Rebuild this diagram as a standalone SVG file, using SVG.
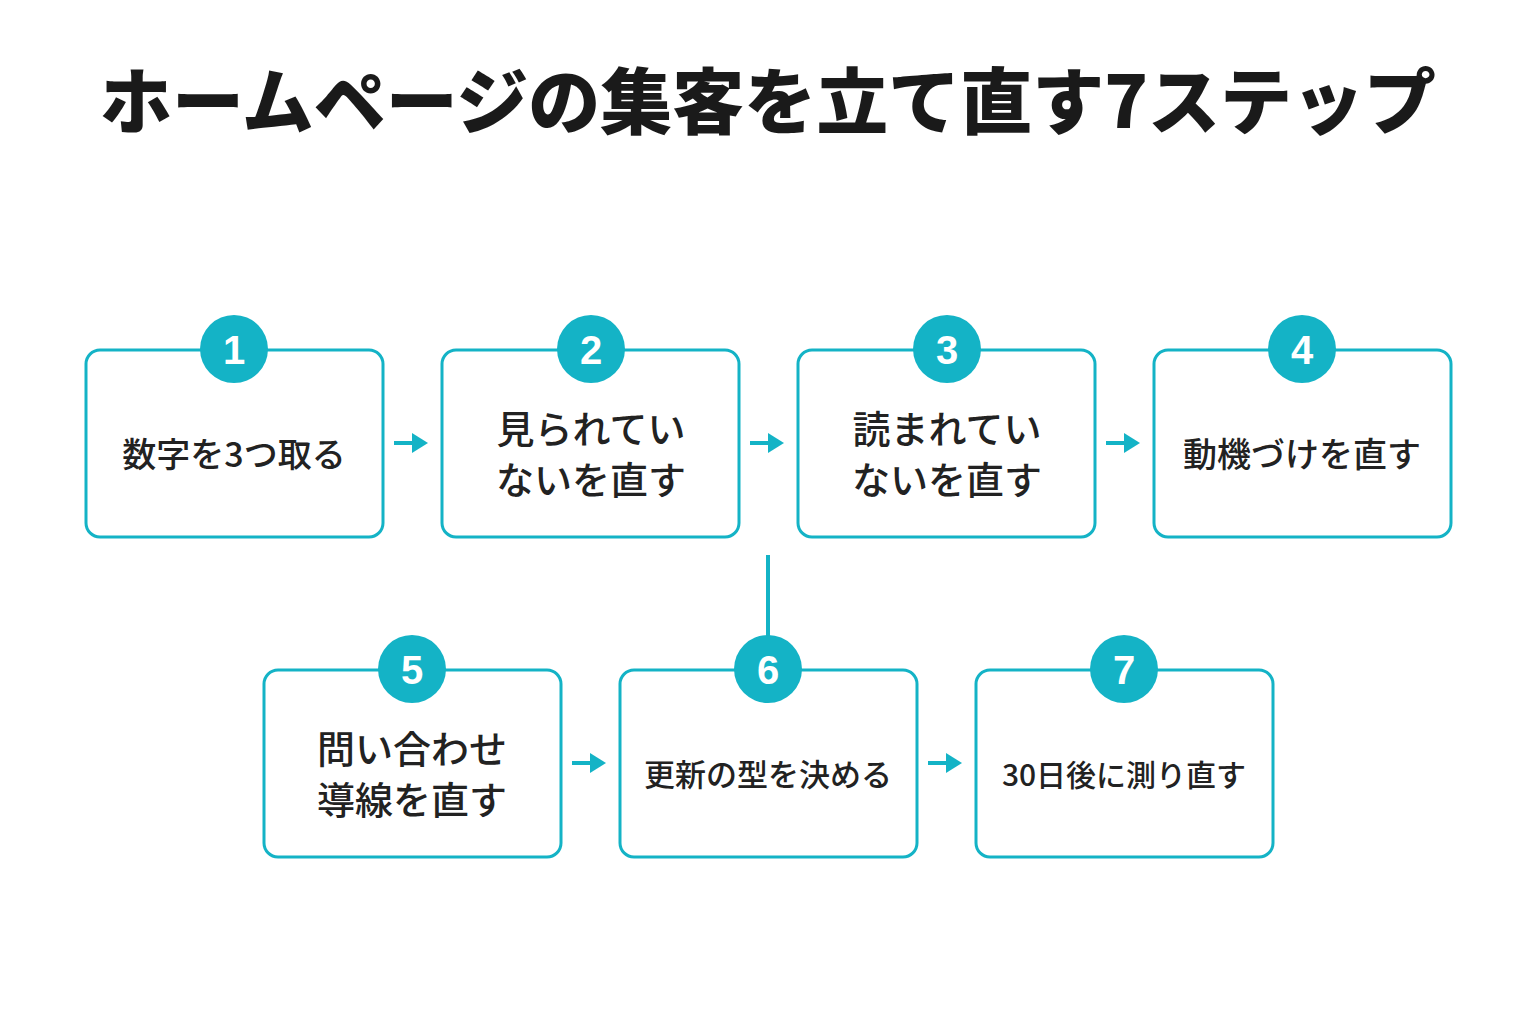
<svg xmlns="http://www.w3.org/2000/svg" width="1536" height="1024" viewBox="0 0 1536 1024">
<style>
.box{fill:#fff;stroke:#14B3C6;stroke-width:3}
.c{fill:#14B3C6}
.n{font-family:"Liberation Sans",Arial,sans-serif;font-weight:bold;font-size:40px;fill:#fff;text-anchor:middle}
.t{font-family:"Noto Sans CJK JP",sans-serif;font-weight:500;fill:#222;text-anchor:middle}
.ln{stroke:#14B3C6;stroke-width:4;fill:none}
</style>
<defs><marker id="a" markerWidth="4" markerHeight="5" refX="2" refY="2.5" orient="auto" markerUnits="strokeWidth"><path d="M0,0L4,2.5L0,5Z" fill="#14B3C6"/></marker></defs>
<rect width="1536" height="1024" fill="#fff"/>
<text x="768" y="128" font-family="Noto Sans CJK JP,sans-serif" font-weight="900" font-size="72" fill="#1a1a1a" text-anchor="middle">ホームページの集客を立て直す7ステップ</text>
<g id="connectors">
<line class="ln" x1="394" y1="443" x2="420" y2="443" marker-end="url(#a)"/>
<line class="ln" x1="750" y1="443" x2="776" y2="443" marker-end="url(#a)"/>
<line class="ln" x1="1106" y1="443" x2="1132" y2="443" marker-end="url(#a)"/>
<line class="ln" x1="572" y1="763" x2="598" y2="763" marker-end="url(#a)"/>
<line class="ln" x1="928" y1="763" x2="954" y2="763" marker-end="url(#a)"/>
<line class="ln" x1="768" y1="555" x2="768" y2="640"/>
</g>
<g id="s1"><rect class="box" x="86" y="350" width="297" height="187" rx="14"/><circle class="c" cx="234" cy="349" r="34"/><text class="n" x="234" y="364">1</text><text class="t" x="234" y="467" font-size="34">数字を3つ取る</text></g>
<g id="s2"><rect class="box" x="442" y="350" width="297" height="187" rx="14"/><circle class="c" cx="591" cy="349" r="34"/><text class="n" x="591" y="364">2</text><text class="t" x="591" y="443" font-size="38">見られてい</text><text class="t" x="591" y="494" font-size="38">ないを直す</text></g>
<g id="s3"><rect class="box" x="798" y="350" width="297" height="187" rx="14"/><circle class="c" cx="947" cy="349" r="34"/><text class="n" x="947" y="364">3</text><text class="t" x="947" y="443" font-size="38">読まれてい</text><text class="t" x="947" y="494" font-size="38">ないを直す</text></g>
<g id="s4"><rect class="box" x="1154" y="350" width="297" height="187" rx="14"/><circle class="c" cx="1302" cy="349" r="34"/><text class="n" x="1302" y="364">4</text><text class="t" x="1302" y="467" font-size="34">動機づけを直す</text></g>
<g id="s5"><rect class="box" x="264" y="670" width="297" height="187" rx="14"/><circle class="c" cx="412" cy="669" r="34"/><text class="n" x="412" y="684">5</text><text class="t" x="412" y="763" font-size="38">問い合わせ</text><text class="t" x="412" y="814" font-size="38">導線を直す</text></g>
<g id="s6"><rect class="box" x="620" y="670" width="297" height="187" rx="14"/><circle class="c" cx="768" cy="669" r="34"/><text class="n" x="768" y="684">6</text><text class="t" x="768" y="786" font-size="31">更新の型を決める</text></g>
<g id="s7"><rect class="box" x="976" y="670" width="297" height="187" rx="14"/><circle class="c" cx="1124" cy="669" r="34"/><text class="n" x="1124" y="684">7</text><text class="t" x="1124" y="786" font-size="30">30日後に測り直す</text></g>
</svg>
